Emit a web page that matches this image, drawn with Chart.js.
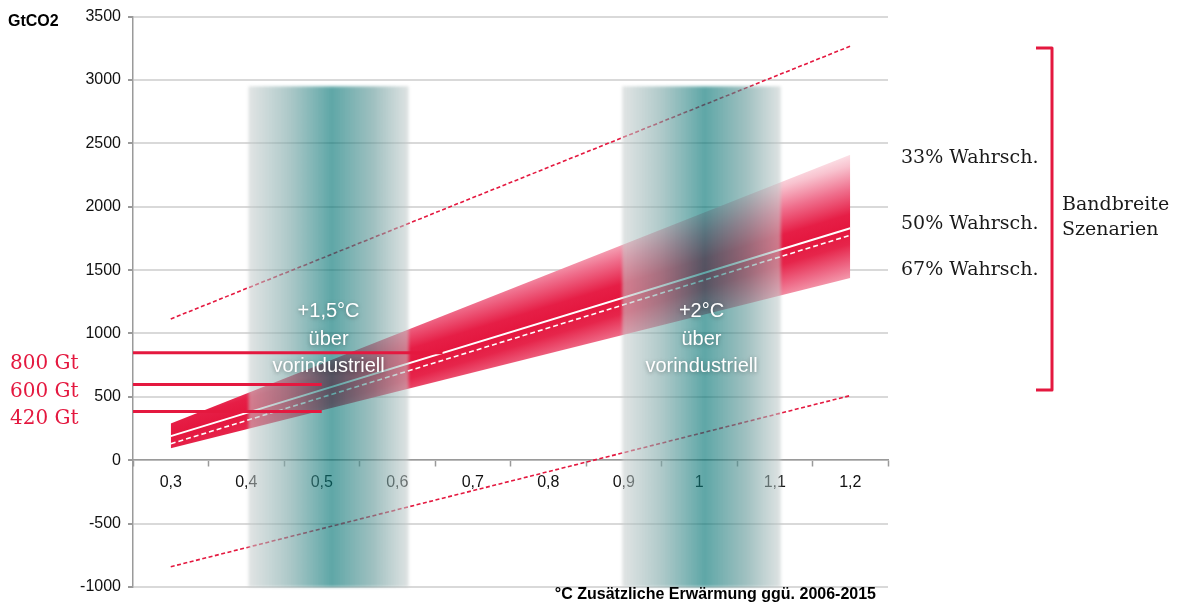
<!DOCTYPE html>
<html>
<head>
<meta charset="utf-8">
<script src="https://cdn.jsdelivr.net/npm/chart.js@4.4.1/dist/chart.umd.min.js"></script>
<style>
  html, body { margin: 0; padding: 0; background: #fff; }
  #wrap { width: 1180px; height: 606px; position: relative; }
</style>
</head>
<body>
<div id="wrap"><canvas id="budgetChart"></canvas></div>
<script>
const xTickValues = [0.3, 0.4, 0.5, 0.6, 0.7, 0.8, 0.9, 1.0, 1.1, 1.2];
const xTickLabels = ["0,3", "0,4", "0,5", "0,6", "0,7", "0,8", "0,9", "1", "1,1", "1,2"];

// scenario band, read at both ends
const bandX = [0.3, 1.2];
const band33 = [290, 2410];
const line50 = [190, 1830];
const band67 = [94, 1437];
const dashedMid = [130, 1775];
const scenMax = [1115, 3267];
const scenMin = [-840, 510];

// remaining budgets marked on the left
const budgetLabels = ["800 Gt", "600 Gt", "420 Gt"];
const budgetValues = [848, 597, 385];
const budgetEndX = [0.66, 0.5, 0.5];

// warming target columns
const warmingRanges = [[0.403, 0.615], [0.898, 1.108]];
const warmingTop = 2950;
const warmingLabels = [["+1,5°C", "über", "vorindustriell"], ["+2°C", "über", "vorindustriell"]];

const probLabels = ["33% Wahrsch.", "50% Wahrsch.", "67% Wahrsch."];

const RED = "#E4183F";
const SERIF = "'DejaVu Serif', serif";
const SANS = "'Liberation Sans', Arial, sans-serif";

const pts = (xs, ys) => xs.map((x, i) => ({ x: x, y: ys[i] }));

function bandFill(dir, len, stops) {
  return (ctx) => {
    const chart = ctx.chart;
    if (!chart.chartArea) return RED;
    const xs = chart.scales.x, ys = chart.scales.y;
    const x0 = xs.getPixelForValue(bandX[0]), y0 = ys.getPixelForValue(line50[0]);
    const x1 = xs.getPixelForValue(bandX[1]), y1 = ys.getPixelForValue(line50[1]);
    const d = Math.hypot(x1 - x0, y1 - y0);
    const nx = (y1 - y0) / d * dir, ny = -(x1 - x0) / d * dir;
    const g = chart.ctx.createLinearGradient(x0, y0, x0 + nx * len, y0 + ny * len);
    stops.forEach(s => g.addColorStop(s[0], s[1]));
    return g;
  };
}

const topStops = [[0, "#E4163E"], [0.18, "#E61E46"], [0.5, "#EF6E8C"], [0.8, "#F8C3CF"], [1, "#FDEBEF"]];
const bottomStops = [[0, "#E4163E"], [0.3, "#E6254B"], [0.7, "#EE6A87"], [1, "#F4A0B2"]];

const budgetSets = budgetValues.map((v, i) => ({
  label: budgetLabels[i],
  data: [{ x: 0.25, y: v }, { x: budgetEndX[i], y: v }],
  borderColor: RED,
  borderWidth: 3,
  pointRadius: 0,
  fill: false,
  order: 1
}));

const columnsPlugin = {
  id: "warmingColumns",
  afterDatasetDraw(chart, args) {
    if (args.index !== 5) return;
    const { ctx, scales: { x, y } } = chart;
    const yTop = y.getPixelForValue(warmingTop);
    const yBot = y.getPixelForValue(y.min);
    warmingRanges.forEach(([a, b]) => {
      const xa = x.getPixelForValue(a), xb = x.getPixelForValue(b);
      const g = ctx.createLinearGradient(xa, 0, xb, 0);
      g.addColorStop(0, "rgba(200,206,206,0.55)");
      g.addColorStop(0.25, "rgba(120,165,165,0.6)");
      g.addColorStop(0.52, "rgba(0,115,115,0.63)");
      g.addColorStop(0.78, "rgba(95,150,150,0.6)");
      g.addColorStop(1, "rgba(195,203,203,0.55)");
      ctx.save();
      ctx.filter = "blur(1.5px)";
      ctx.fillStyle = g;
      ctx.fillRect(xa, yTop, xb - xa, yBot - yTop);
      ctx.restore();
    });
  },
  afterDraw(chart) {
    const { ctx, scales: { x, y } } = chart;
    ctx.save();
    // column captions
    const base = y.getPixelForValue(1000);
    ctx.font = "20px " + SANS;
    ctx.textAlign = "center";
    ctx.textBaseline = "alphabetic";
    ctx.fillStyle = "#fff";
    ctx.shadowColor = "rgba(0,0,0,0.35)";
    ctx.shadowBlur = 4;
    ctx.shadowOffsetY = 1;
    warmingRanges.forEach(([a, b], i) => {
      const cx = (x.getPixelForValue(a) + x.getPixelForValue(b)) / 2;
      warmingLabels[i].forEach((t, j) => ctx.fillText(t, cx, base - 16 + j * 27.5));
    });
    ctx.shadowColor = "transparent";
    ctx.shadowBlur = 0;
    ctx.shadowOffsetY = 0;

    // budget labels
    ctx.textAlign = "left";
    ctx.fillStyle = RED;
    ctx.font = "20px " + SERIF;
    budgetLabels.forEach((t, i) => ctx.fillText(t, 10, 369 + i * 27.5));

    // probability labels
    ctx.fillStyle = "#1a1a1a";
    ctx.font = "19px " + SERIF;
    [163, 229, 275].forEach((yy, i) => ctx.fillText(probLabels[i], 901, yy));
    ctx.fillText("Bandbreite", 1062, 210);
    ctx.fillText("Szenarien", 1062, 235);

    // bracket
    ctx.strokeStyle = RED;
    ctx.lineWidth = 3;
    ctx.lineJoin = "round";
    ctx.beginPath();
    ctx.moveTo(1036, 48);
    ctx.lineTo(1052, 48);
    ctx.lineTo(1052, 390);
    ctx.lineTo(1036, 390);
    ctx.stroke();

    // axis titles
    ctx.fillStyle = "#000";
    ctx.font = "bold 16px " + SANS;
    ctx.fillText("GtCO2", 8, 26);
    ctx.textAlign = "right";
    ctx.fillText("°C Zusätzliche Erwärmung ggü. 2006-2015", 876, 599);
    ctx.restore();
  }
};

new Chart(document.getElementById("budgetChart"), {
  type: "line",
  data: {
    datasets: [
      {
        label: "33%",
        data: pts(bandX, band33),
        borderWidth: 0,
        pointRadius: 0,
        fill: { target: 1 },
        backgroundColor: bandFill(1, 75, topStops),
        order: 10
      },
      {
        label: "50%",
        data: pts(bandX, line50),
        borderColor: "#ffffff",
        borderWidth: 2,
        pointRadius: 0,
        fill: false,
        order: 8
      },
      {
        label: "67%",
        data: pts(bandX, band67),
        borderWidth: 0,
        pointRadius: 0,
        fill: { target: 1 },
        backgroundColor: bandFill(-1, 50, bottomStops),
        order: 9
      },
      {
        label: "Mitte",
        data: pts(bandX, dashedMid),
        borderColor: "#ffffff",
        borderWidth: 1.6,
        borderDash: [5, 3],
        pointRadius: 0,
        fill: false,
        order: 7
      },
      {
        label: "Max",
        data: pts(bandX, scenMax),
        borderColor: RED,
        borderWidth: 1.6,
        borderDash: [4, 2.5],
        pointRadius: 0,
        fill: false,
        order: 6
      },
      {
        label: "Min",
        data: pts(bandX, scenMin),
        borderColor: RED,
        borderWidth: 1.6,
        borderDash: [4, 2.5],
        pointRadius: 0,
        fill: false,
        order: 5
      },
      ...budgetSets
    ]
  },
  options: {
    responsive: true,
    maintainAspectRatio: false,
    animation: false,
    layout: { padding: { left: 0, top: 14, right: 292, bottom: 19 } },
    plugins: {
      legend: { display: false },
      tooltip: { enabled: false }
    },
    scales: {
      x: {
        type: "linear",
        position: { y: 0 },
        min: 0.25,
        max: 1.25,
        afterBuildTicks: s => { s.ticks = xTickValues.map(v => ({ value: v })); },
        grid: { drawOnChartArea: false, offset: true, tickLength: 6, tickColor: "#9a9a9a", tickWidth: 1.5 },
        border: { color: "#9a9a9a", width: 1.5 },
        ticks: {
          autoSkip: false,
          maxRotation: 0,
          padding: 7,
          color: "#111",
          font: { family: SANS, size: 16 },
          callback: (v, i) => xTickLabels[i]
        }
      },
      y: {
        min: -1000,
        max: 3500,
        afterFit: s => { s.width = 133; },
        grid: { color: "#d9d9d9", lineWidth: 2, tickLength: 5, tickColor: "#9a9a9a" },
        border: { color: "#9a9a9a", width: 1.5 },
        ticks: {
          stepSize: 500,
          padding: 7,
          color: "#111",
          font: { family: SANS, size: 16 },
          callback: v => String(v)
        }
      }
    }
  },
  plugins: [columnsPlugin]
});
</script>
</body>
</html>
